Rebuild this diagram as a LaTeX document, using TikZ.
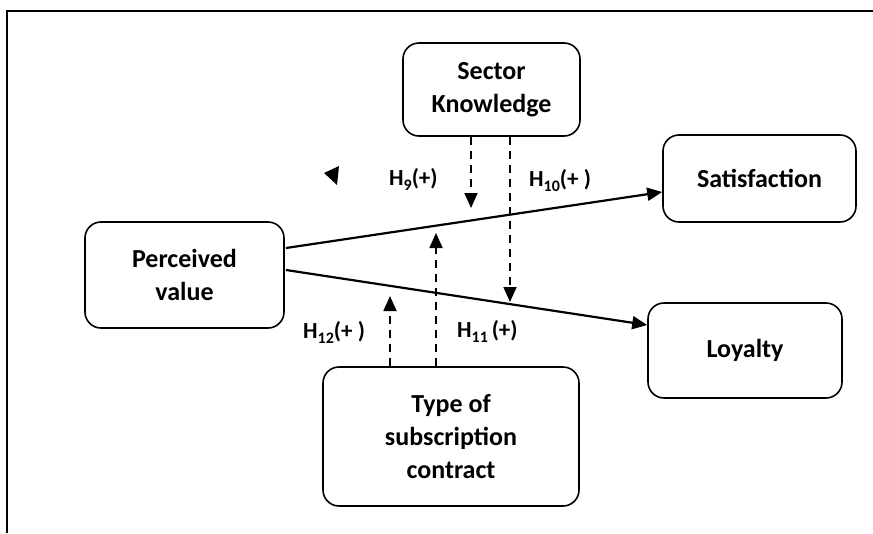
\documentclass[tikz,border=0pt]{standalone}
\usepackage{fontspec}
\setmainfont{Carlito}
\usetikzlibrary{arrows.meta}
\newcommand\hsub[1]{\raisebox{-0.5ex}{\fontsize{16}{16}\selectfont #1}}
\begin{document}
\begin{tikzpicture}[x=1pt,y=-1pt,
  box/.style={draw, line width=1.6pt, rounded corners=16pt, align=center,
    inner sep=0pt, font=\fontsize{26}{33}\selectfont\bfseries},
  lab/.style={anchor=base west, inner sep=0pt, font=\fontsize{23}{26}\selectfont\bfseries},
  tip/.style={-{Triangle[length=15pt,width=13pt]}},
  solidarrow/.style={tip, line width=2.2pt},
  dasharrow/.style={tip, line width=1.8pt, dash pattern=on 8pt off 6pt}]
\useasboundingbox (0,0) rectangle (873,533);
% open frame
\draw[line width=2.6pt] (7,533) -- (7,11) -- (873,11);

% constructs
\node[box, minimum width=177pt, minimum height=93pt] (sk) at (491.5,89.5) {Sector\\Knowledge};
\node[box, minimum width=193pt, minimum height=87pt] (sat) at (759.5,178.5) {Satisfaction};
\node[box, minimum width=194pt, minimum height=95pt] (loy) at (745,350.5) {Loyalty};
\node[box, minimum width=199pt, minimum height=106pt] (pv) at (184.5,275) {Perceived\\value};
\node[box, minimum width=256pt, minimum height=139pt] (ty) at (451,436.5) {Type of\\subscription\\contract};

% main paths
\coordinate (pvs) at (286,248);
\coordinate (pvl) at (286,270);
\draw[solidarrow] (pvs) -- (sat.west |- 0,192);
\draw[solidarrow] (pvl) -- (loy.west |- 0,325);

% moderating paths
\coordinate (m9) at (471,208);
\coordinate (m10) at (510,302);
\coordinate (m11) at (436,233);
\coordinate (m12) at (390,296);
\draw[dasharrow] (sk.south -| m9) -- (m9);
\draw[dasharrow] (sk.south -| m10) -- (m10);
\draw[dasharrow] (ty.north -| m11) -- (m11);
\draw[dasharrow] (ty.north -| m12) -- (m12);

% hypothesis labels
\node[lab] (h9) at (389,185) {H\hsub{9}(+)};
\node[lab] (h10) at (529,186) {H\hsub{10}(+ )};
\node[lab] (h12) at (303,338) {H\hsub{12}(+ )};
\node[lab] (h11) at (457,337) {H\hsub{11}\,(+)};

% loose arrowhead
\fill (324,173) -- (339,166) -- (337,185) -- cycle;
\end{tikzpicture}
\end{document}
